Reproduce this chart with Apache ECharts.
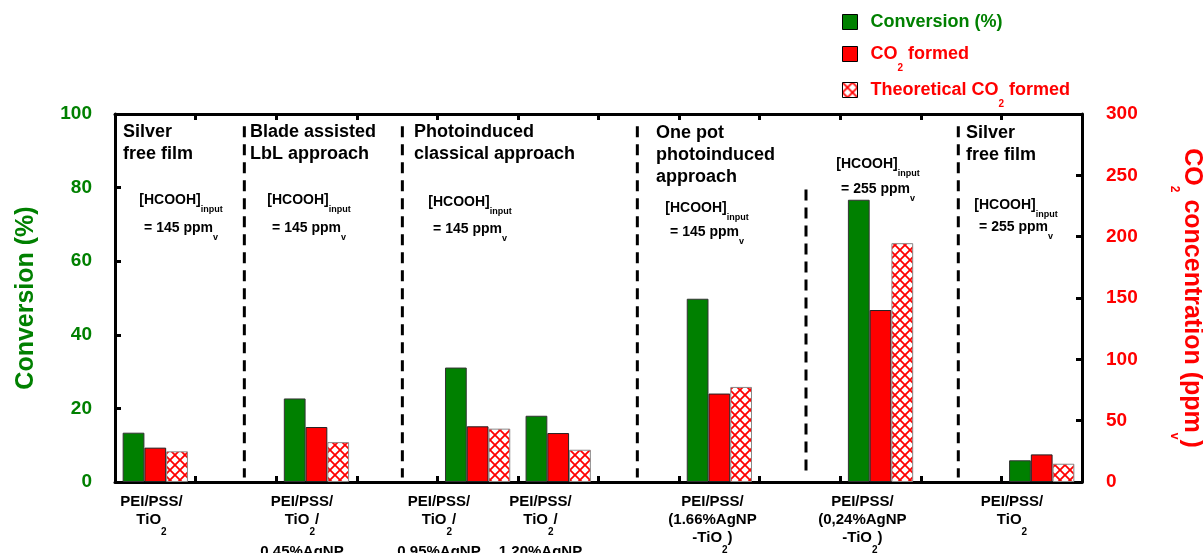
<!DOCTYPE html>
<html><head><meta charset="utf-8">
<script src="https://cdn.jsdelivr.net/npm/echarts@6/dist/echarts.min.js"></script>
<style>html,body{margin:0;padding:0;background:#fff}#c{width:1203px;height:553px}</style>
</head><body><div id="c"></div>
<script>
// ---------- data ----------
const categories = ['PEI/PSS/\nTiO_2', '', 'PEI/PSS/\nTiO_2/\n0,45%AgNP', '', 'PEI/PSS/\nTiO_2/\n0,95%AgNP',
  'PEI/PSS/\nTiO_2/\n1,20%AgNP', '', 'PEI/PSS/\n(1.66%AgNP\n-TiO_2)', '', 'PEI/PSS/\n(0,24%AgNP\n-TiO_2)', '', 'PEI/PSS/\nTiO_2'];
const conversion     = [13.4, null, 22.7, null, 31.1, 18.0, null, 49.8, null, 76.7, null, 5.9];
const co2Formed      = [28.0, null, 44.8, null, 45.4, 39.9, null, 72.1, null, 140.2, null, 22.5];
const theoreticalCO2 = [25.0, null, 32.5, null, 43.5, 26.3, null, 77.5, null, 194.7, null, 14.9];
const seriesNames = ['Conversion (%)', 'CO_2 formed', 'Theoretical CO_2 formed'];
const leftAxisRange = [0, 100, 20];
const rightAxisRange = [0, 300, 50];
const groupTitles = ['Silver\nfree film', 'Blade assisted\nLbL approach', 'Photoinduced\nclassical approach',
  'One pot\nphotoinduced\napproach', 'Silver\nfree film'];
const hcoohInput = [145, 145, 145, 145, 255, 255];
const dividerX = [1.605, 3.566, 6.482, 8.575, 10.465];   // in category units
const dividerTop = [96.7, 96.7, 96.7, 79.5, 96.7];       // in conversion units

// ---------- layout / style ----------
const FF = 'Liberation Sans, Arial, sans-serif';
const GREEN = '#008000', RED = '#ff0000';
const labelShiftPx = [3.8, 0, 14.5, 0, 38.6, 17.7, 0, 6.9, 0, 18.1, 0, 29.7];
const titlePos = [[123, 121], [250, 121], [414, 121], [656, 122], [966, 122]];
const hcoohPos = [[181, 200, 228], [309, 200, 228], [470, 202, 229], [707, 208, 232], [878, 164, 189], [1016, 205, 227]];

function toRich(line, m, s) {
  const parts = line.split(/_([A-Za-z0-9]+)/);
  let out = '';
  parts.forEach((p, i) => {
    if (!p) return;
    if (i % 2 === 1) out += '{' + s + '|' + p + '}';
    else out += m ? '{' + m + '|' + p + '}' : p;
  });
  return out;
}

// hatch pattern
const P = 10;
const pat = document.createElement('canvas');
pat.width = P; pat.height = P;
const g = pat.getContext('2d');
g.fillStyle = '#fff'; g.fillRect(0, 0, P, P);
g.strokeStyle = RED; g.lineWidth = 1.8;
g.beginPath();
g.moveTo(-2, -2); g.lineTo(P + 2, P + 2);
g.moveTo(P + 2, -2); g.lineTo(-2, P + 2);
g.stroke();

const axisLineStyle = { show: true, onZero: false, lineStyle: { color: '#000', width: 3 } };
const tickStyle = { show: true, inside: true, length: 6, lineStyle: { color: '#000', width: 3 } };

const graphics = [];
groupTitles.forEach((t, i) => {
  graphics.push({ type: 'text', x: titlePos[i][0], y: titlePos[i][1], z: 100, silent: true,
    style: { text: t, fontSize: 18, fontWeight: 'bold', fontFamily: FF, fill: '#000', lineHeight: 22, align: 'left', verticalAlign: 'top' } });
});
const subRich = { s: { fontSize: 9, fontWeight: 'bold', fontFamily: FF, fill: '#000', lineHeight: 17, padding: [19, 0, 0, 0] } };
hcoohInput.forEach((v, i) => {
  const p = hcoohPos[i];
  graphics.push({ type: 'text', x: p[0], y: p[1], z: 100, silent: true,
    style: { text: toRich('[HCOOH]_input', null, 's'), fontSize: 14, fontWeight: 'bold', fontFamily: FF, fill: '#000', align: 'center', verticalAlign: 'middle', rich: subRich } });
  graphics.push({ type: 'text', x: p[0], y: p[2], z: 100, silent: true,
    style: { text: toRich('= ' + v + ' ppm_v', null, 's'), fontSize: 14, fontWeight: 'bold', fontFamily: FF, fill: '#000', align: 'center', verticalAlign: 'middle', rich: subRich } });
});

const option = {
  animation: false,
  textStyle: { fontFamily: FF },
  grid: { left: 115, right: 121, top: 114, bottom: 71, containLabel: false, outerBoundsMode: 'none' },
  legend: {
    orient: 'vertical', left: 842, top: 7, padding: 0, itemWidth: 15, itemHeight: 15, itemGap: -2,
    icon: 'rect', selectedMode: false,
    itemStyle: { borderColor: '#000', borderWidth: 1 },
    data: [
      { name: seriesNames[0], textStyle: { color: GREEN } },
      { name: seriesNames[1], textStyle: { color: RED } },
      { name: seriesNames[2], textStyle: { color: RED } }
    ],
    formatter: name => toRich(name, null, 'sub'),
    textStyle: { fontSize: 18, fontWeight: 'bold', fontFamily: FF, lineHeight: 30, padding: [0, 0, 0, 8],
      rich: { sub: { fontSize: 10, fontWeight: 'bold', fontFamily: FF, color: RED, lineHeight: 30, padding: [28, 0, 0, 0] } } }
  },
  xAxis: [
    { type: 'category', position: 'bottom',
      data: categories.map((c, i) => ({ value: 'c' + i, textStyle: { padding: [0, 2 * labelShiftPx[i], 0, 0] } })),
      axisLine: axisLineStyle, axisTick: Object.assign({ interval: 0 }, tickStyle),
      axisLabel: { interval: 0, margin: 11, color: '#000', fontSize: 15, fontWeight: 'bold', fontFamily: FF,
        formatter: (v, idx) => categories[idx] ? categories[idx].split('\n').map(l => toRich(l, 'm', 's')).join('\n') : '',
        rich: {
          m: { fontSize: 15, fontWeight: 'bold', fontFamily: FF, color: '#000', lineHeight: 18, height: 17, verticalAlign: 'top' },
          s: { fontSize: 10, fontWeight: 'bold', fontFamily: FF, color: '#000', lineHeight: 32, padding: [11, 0, 0, 0] }
        } },
      splitLine: { show: false } },
    { type: 'value', position: 'top', min: 0, max: 12, interval: 1,
      axisLine: axisLineStyle, axisTick: tickStyle, axisLabel: { show: false }, splitLine: { show: false } }
  ],
  yAxis: [
    { type: 'value', position: 'left', min: leftAxisRange[0], max: leftAxisRange[1], interval: leftAxisRange[2],
      axisLine: axisLineStyle, axisTick: tickStyle, splitLine: { show: false },
      axisLabel: { color: GREEN, fontSize: 19, fontWeight: 'bold', fontFamily: FF, margin: 23 },
      name: 'Conversion (%)', nameLocation: 'middle', nameRotate: 90, nameGap: 76,
      nameTextStyle: { color: GREEN, fontSize: 25, fontWeight: 'bold', fontFamily: FF } },
    { type: 'value', position: 'right', min: rightAxisRange[0], max: rightAxisRange[1], interval: rightAxisRange[2],
      axisLine: axisLineStyle, axisTick: tickStyle, splitLine: { show: false },
      axisLabel: { color: RED, fontSize: 19, fontWeight: 'bold', fontFamily: FF, margin: 24 },
      name: toRich('CO_2 concentration (ppm_v)', null, 's'), nameLocation: 'middle', nameRotate: -90, nameGap: 95,
      nameTextStyle: { color: RED, fontSize: 25, fontWeight: 'bold', fontFamily: FF, lineHeight: 29,
        rich: { s: { fontSize: 12, fontWeight: 'bold', fontFamily: FF, color: RED, lineHeight: 29, padding: [35, 0, 0, 0] } } } }
  ],
  series: [
    { name: seriesNames[0], type: 'bar', xAxisIndex: 0, yAxisIndex: 0, data: conversion, barGap: '0%', barCategoryGap: '19%',
      itemStyle: { color: GREEN, borderColor: '#333', borderWidth: 1 } },
    { name: seriesNames[1], type: 'bar', xAxisIndex: 0, yAxisIndex: 1, data: co2Formed, barGap: '0%', barCategoryGap: '19%',
      itemStyle: { color: RED, borderColor: '#222', borderWidth: 1 } },
    { name: seriesNames[2], type: 'bar', xAxisIndex: 0, yAxisIndex: 1, data: theoreticalCO2, barGap: '0%', barCategoryGap: '19%',
      itemStyle: { color: { image: pat, repeat: 'repeat' }, borderColor: '#888', borderWidth: 1 } },
    { type: 'custom', xAxisIndex: 1, yAxisIndex: 0, silent: true, z: 3,
      data: dividerX.map((x, i) => [x, dividerTop[i]]),
      renderItem: (params, api) => {
        const p0 = api.coord([api.value(0), api.value(1)]);
        const p1 = api.coord([api.value(0), 1.2]);
        return { type: 'line', shape: { x1: p0[0], y1: p0[1], x2: p1[0], y2: p1[1] },
          style: { stroke: '#000', lineWidth: 3, lineDash: [11, 7] } };
      } }
  ],
  graphic: graphics
};
const chart = echarts.init(document.getElementById('c'), null, { renderer: 'canvas' });
chart.setOption(option);
</script></body></html>
